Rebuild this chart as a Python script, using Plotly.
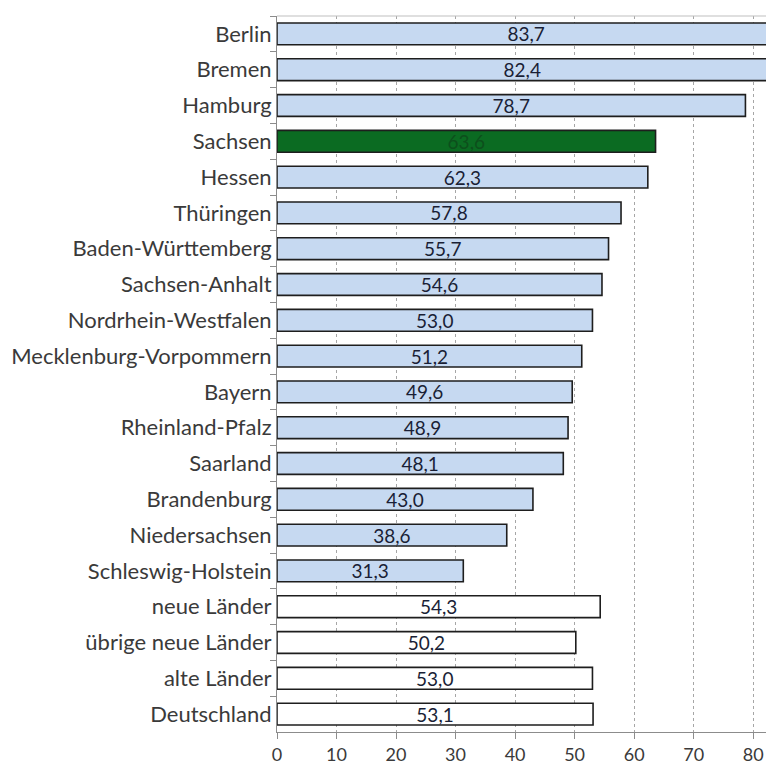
import plotly.graph_objects as go

categories = ["Berlin", "Bremen", "Hamburg", "Sachsen", "Hessen", "Thüringen",
              "Baden-Württemberg", "Sachsen-Anhalt", "Nordrhein-Westfalen",
              "Mecklenburg-Vorpommern", "Bayern", "Rheinland-Pfalz", "Saarland",
              "Brandenburg", "Niedersachsen", "Schleswig-Holstein", "neue Länder",
              "übrige neue Länder", "alte Länder", "Deutschland"]
values = [83.7, 82.4, 78.7, 63.6, 62.3, 57.8, 55.7, 54.6, 53.0, 51.2, 49.6, 48.9,
          48.1, 43.0, 38.6, 31.3, 54.3, 50.2, 53.0, 53.1]
highlight = "Sachsen"
aggregates = ["neue Länder", "übrige neue Länder", "alte Länder", "Deutschland"]
x_ticks = [0, 10, 20, 30, 40, 50, 60, 70, 80]

fills, text_colors = [], []
for c in categories:
    if c == highlight:
        fills.append("#0b6b22")
        text_colors.append("#0d4f1c")
    elif c in aggregates:
        fills.append("#ffffff")
        text_colors.append("#1a1f36")
    else:
        fills.append("#c6d9f1")
        text_colors.append("#1a1f36")

labels = [f"{v:.1f}".replace(".", ",") for v in values]

fig = go.Figure(go.Bar(
    y=categories, x=values, orientation="h",
    marker=dict(color=fills, line=dict(color="#1e1e1e", width=1.6)),
    text=labels, textposition="inside", insidetextanchor="middle",
    constraintext="none",
    textfont=dict(family="Lato, Liberation Sans, sans-serif", size=19, color=text_colors),
    textangle=0, cliponaxis=True,
))

fig.update_layout(
    width=774, height=769,
    margin=dict(l=269, r=8, t=8, b=45, autoexpand=False),
    paper_bgcolor="white", plot_bgcolor="white",
    bargap=0.39, showlegend=False,
    uniformtext=dict(mode=False),
    font=dict(family="Lato, Liberation Sans, sans-serif", color="#3a3a3a"),
)
fig.update_xaxes(
    range=[0, 83.5], tickvals=x_ticks, ticktext=[str(t) for t in x_ticks],
    showgrid=True, gridcolor="#a6a6a6", griddash="dot", gridwidth=1,
    showline=True, linecolor="#8c8c8c", linewidth=1,
    ticks="outside", ticklen=6, tickcolor="#8c8c8c", automargin=False,
    tickfont=dict(size=18, color="#3a3a3a"), zeroline=False, mirror=False,
)
fig.update_yaxes(
    autorange="reversed", categoryorder="array", categoryarray=categories,
    showline=True, linecolor="#8c8c8c", linewidth=1, automargin=False,
    ticks="outside", ticklen=6, tickcolor="#8c8c8c", tickson="boundaries",
    tickfont=dict(size=22, color="#3a3a3a"), ticklabelstandoff=0,
)
fig.add_shape(type="line", xref="paper", yref="paper", x0=0, x1=1, y0=1, y1=1,
              line=dict(color="#bfbfbf", width=1))

fig.write_html("out.html")
